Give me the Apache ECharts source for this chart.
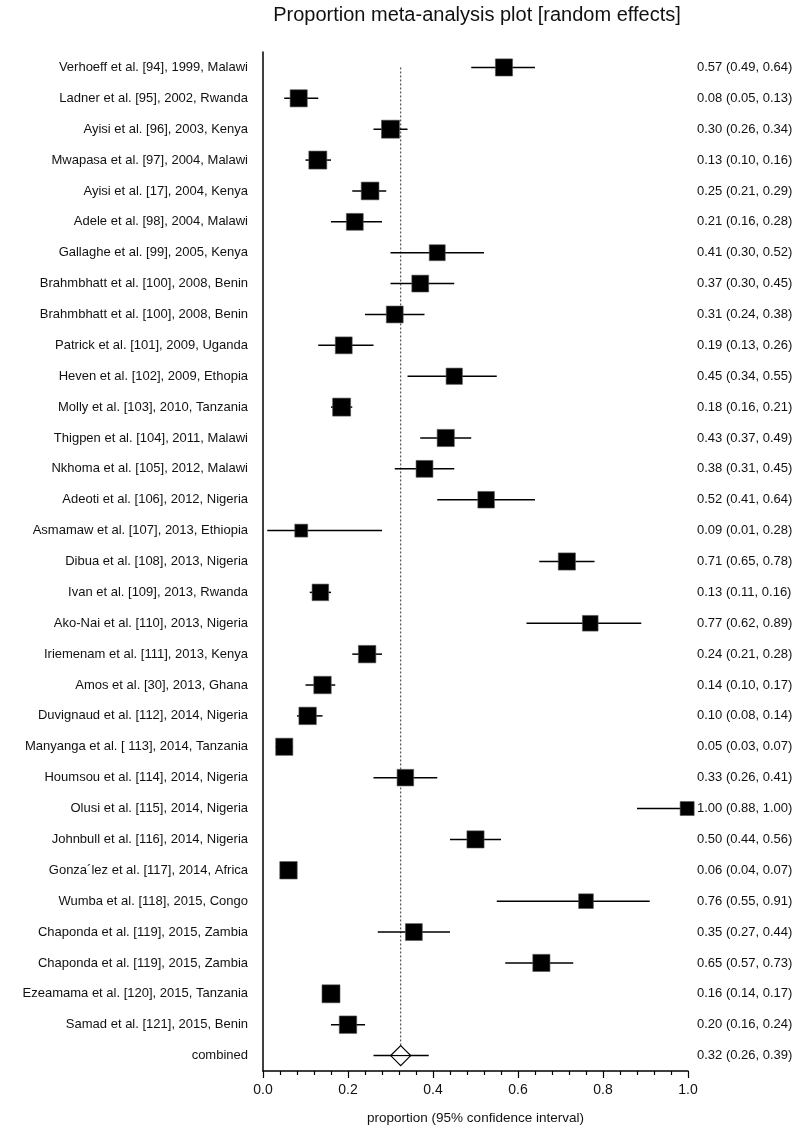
<!DOCTYPE html>
<html>
<head>
<meta charset="utf-8">
<script src="https://cdn.jsdelivr.net/npm/echarts@6/dist/echarts.min.js"></script>
<style>
html,body{margin:0;padding:0;background:#fff;}
#chart{width:797px;height:1130px;}
</style>
</head>
<body>
<div id="chart"></div>
<script>
// ---- data ----
var studies = [
  "Verhoeff et al. [94], 1999, Malawi",
  "Ladner et al. [95], 2002, Rwanda",
  "Ayisi et al. [96], 2003, Kenya",
  "Mwapasa et al. [97], 2004, Malawi",
  "Ayisi et al. [17], 2004, Kenya",
  "Adele et al. [98], 2004, Malawi",
  "Gallaghe et al. [99], 2005, Kenya",
  "Brahmbhatt et al. [100], 2008, Benin",
  "Brahmbhatt et al. [100], 2008, Benin",
  "Patrick et al. [101], 2009, Uganda",
  "Heven et al. [102], 2009, Ethopia",
  "Molly et al. [103], 2010, Tanzania",
  "Thigpen et al. [104], 2011, Malawi",
  "Nkhoma et al. [105], 2012, Malawi",
  "Adeoti et al. [106], 2012, Nigeria",
  "Asmamaw et al. [107], 2013, Ethiopia",
  "Dibua et al. [108], 2013, Nigeria",
  "Ivan et al. [109], 2013, Rwanda",
  "Ako-Nai et al. [110], 2013, Nigeria",
  "Iriemenam et al. [111], 2013, Kenya",
  "Amos et al. [30], 2013, Ghana",
  "Duvignaud et al. [112], 2014, Nigeria",
  "Manyanga et al. [ 113], 2014, Tanzania",
  "Houmsou et al. [114], 2014, Nigeria",
  "Olusi et al. [115], 2014, Nigeria",
  "Johnbull et al. [116], 2014, Nigeria",
  "Gonza\u00b4lez et al. [117], 2014, Africa",
  "Wumba et al. [118], 2015, Congo",
  "Chaponda et al. [119], 2015, Zambia",
  "Chaponda et al. [119], 2015, Zambia",
  "Ezeamama et al. [120], 2015, Tanzania",
  "Samad et al. [121], 2015, Benin"
];
var estimate = [0.567,0.084,0.30,0.129,0.252,0.216,0.41,0.37,0.31,0.19,0.45,0.185,0.43,0.38,0.525,0.09,0.715,0.135,0.77,0.245,0.14,0.105,0.05,0.335,0.998,0.50,0.06,0.76,0.355,0.655,0.16,0.20];
var lower    = [0.49,0.05,0.26,0.10,0.21,0.16,0.30,0.30,0.24,0.13,0.34,0.16,0.37,0.31,0.41,0.01,0.65,0.11,0.62,0.21,0.10,0.08,0.03,0.26,0.88,0.44,0.04,0.55,0.27,0.57,0.14,0.16];
var upper    = [0.64,0.13,0.34,0.16,0.29,0.28,0.52,0.45,0.38,0.26,0.55,0.21,0.49,0.45,0.64,0.28,0.78,0.16,0.89,0.28,0.17,0.14,0.07,0.41,1.00,0.56,0.07,0.91,0.44,0.73,0.17,0.24];
var labelText = ["0.57 (0.49, 0.64)","0.08 (0.05, 0.13)","0.30 (0.26, 0.34)","0.13 (0.10, 0.16)","0.25 (0.21, 0.29)","0.21 (0.16, 0.28)","0.41 (0.30, 0.52)","0.37 (0.30, 0.45)","0.31 (0.24, 0.38)","0.19 (0.13, 0.26)","0.45 (0.34, 0.55)","0.18 (0.16, 0.21)","0.43 (0.37, 0.49)","0.38 (0.31, 0.45)","0.52 (0.41, 0.64)","0.09 (0.01, 0.28)","0.71 (0.65, 0.78)","0.13 (0.11, 0.16)","0.77 (0.62, 0.89)","0.24 (0.21, 0.28)","0.14 (0.10, 0.17)","0.10 (0.08, 0.14)","0.05 (0.03, 0.07)","0.33 (0.26, 0.41)","1.00 (0.88, 1.00)","0.50 (0.44, 0.56)","0.06 (0.04, 0.07)","0.76 (0.55, 0.91)","0.35 (0.27, 0.44)","0.65 (0.57, 0.73)","0.16 (0.14, 0.17)","0.20 (0.16, 0.24)"];
// relative study weights (estimated from square areas)
var weights = [3.0,3.0,3.3,3.3,3.2,2.9,2.6,2.9,2.9,2.9,2.7,3.3,3.0,2.9,2.8,1.7,3.0,2.8,2.5,3.1,3.1,3.1,3.0,2.8,2.0,3.0,3.1,2.2,2.9,3.0,3.3,3.1];
var combinedLabel = "combined";
var combinedEst = 0.324, combinedLo = 0.26, combinedHi = 0.39;
var combinedText = "0.32 (0.26, 0.39)";
var xTicks = [0, 0.2, 0.4, 0.6, 0.8, 1.0];

// ---- build ----
var categories = studies.concat([combinedLabel]);
var rightLabels = labelText.concat([combinedText]);
var maxW = Math.max.apply(null, weights);
var studyData = studies.map(function (s, i) {
  return [estimate[i], lower[i], upper[i], i, weights[i]];
});
var FONT = '"Liberation Sans", Arial, sans-serif';
var INK = '#111';

var chart = echarts.init(document.getElementById('chart'), null, {renderer: 'canvas'});
chart.setOption({
  animation: false,
  backgroundColor: '#fff',
  title: {
    text: 'Proportion meta-analysis plot [random effects]',
    left: 472, top: 0, textAlign: 'center',
    textStyle: {fontFamily: FONT, fontSize: 20, fontWeight: 'normal', color: INK}
  },
  grid: {left: 263, right: 109, top: 52, bottom: 51, containLabel: false},
  xAxis: {
    type: 'value', min: 0, max: 1, interval: 0.2,
    axisLine: {show: true, lineStyle: {color: '#000', width: 1.5}},
    axisTick: {show: true, length: 7, lineStyle: {color: '#000', width: 1.2}},
    minorTick: {show: true, splitNumber: 5, length: 4, lineStyle: {color: '#000', width: 1.2}},
    splitLine: {show: false},
    axisLabel: {
      fontFamily: FONT, fontSize: 14, color: INK, margin: 12,
      formatter: function (v) { return xTicks.indexOf(+v.toFixed(1)) >= 0 ? v.toFixed(1) : ''; }
    },
    name: 'proportion (95% confidence interval)', nameLocation: 'middle', nameGap: 40,
    nameTextStyle: {fontFamily: FONT, fontSize: 13.5, color: INK}
  },
  yAxis: [{
    type: 'category', data: categories, inverse: true,
    axisLine: {show: true, onZero: false, lineStyle: {color: '#000', width: 1.5}},
    axisTick: {show: false},
    splitLine: {show: false},
    axisLabel: {fontFamily: FONT, fontSize: 13, color: INK, margin: 15}
  }, {
    type: 'category', data: rightLabels, inverse: true, position: 'right',
    axisLine: {show: false}, axisTick: {show: false}, splitLine: {show: false},
    axisLabel: {fontFamily: FONT, fontSize: 13, color: INK, margin: 9, align: 'left'}
  }],
  series: [{
    type: 'line',
    data: [[combinedEst, 0], [combinedEst, studies.length]],
    symbol: 'none',
    lineStyle: {type: [2, 2], width: 1, color: '#333'},
    z: 1
  }, {
    type: 'custom',
    data: studyData,
    encode: {x: [0, 1, 2], y: 3},
    z: 3,
    renderItem: function (params, api) {
      var y = api.value(3);
      var c = api.coord([api.value(0), y]);
      var l = api.coord([api.value(1), y]);
      var h = api.coord([api.value(2), y]);
      var s = 18 * Math.sqrt(api.value(4) / maxW);
      return {
        type: 'group',
        children: [{
          type: 'line',
          shape: {x1: l[0], y1: c[1], x2: h[0], y2: c[1]},
          style: {stroke: '#000', lineWidth: 1.5}
        }, {
          type: 'rect',
          shape: {x: c[0] - s / 2, y: c[1] - s / 2, width: s, height: s},
          style: {fill: '#000', stroke: '#555', lineWidth: 0.6}
        }]
      };
    }
  }, {
    type: 'custom',
    data: [[combinedEst, combinedLo, combinedHi, studies.length]],
    encode: {x: [0, 1, 2], y: 3},
    z: 4,
    renderItem: function (params, api) {
      var y = api.value(3);
      var c = api.coord([api.value(0), y]);
      var l = api.coord([api.value(1), y]);
      var h = api.coord([api.value(2), y]);
      var r = 10;
      return {
        type: 'group',
        children: [{
          type: 'line',
          shape: {x1: l[0], y1: c[1], x2: h[0], y2: c[1]},
          style: {stroke: '#000', lineWidth: 1.5}
        }, {
          type: 'polygon',
          shape: {points: [[c[0], c[1] - r], [c[0] + r, c[1]], [c[0], c[1] + r], [c[0] - r, c[1]]]},
          style: {fill: '#fff', stroke: '#000', lineWidth: 1.2}
        }, {
          type: 'line',
          shape: {x1: c[0] - r, y1: c[1], x2: c[0] + r, y2: c[1]},
          style: {stroke: '#000', lineWidth: 1.2}
        }]
      };
    }
  }]
});
</script>
</body>
</html>
